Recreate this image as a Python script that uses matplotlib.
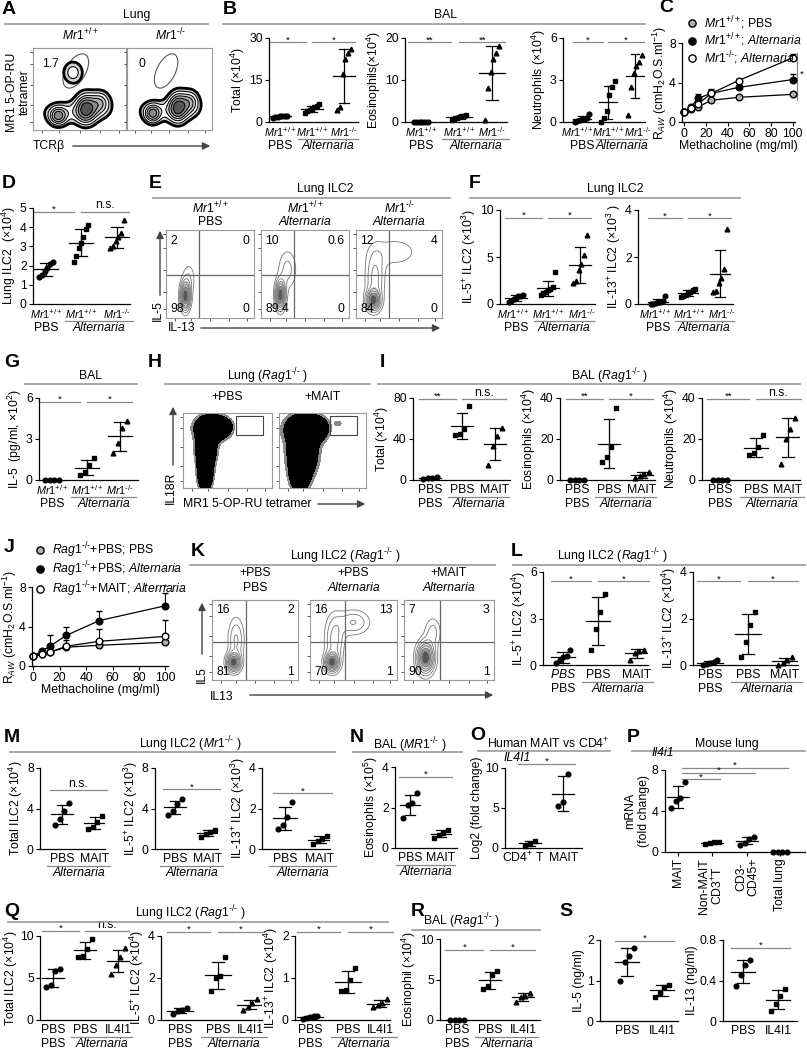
import numpy as np
import matplotlib
matplotlib.use('Agg')
import matplotlib.pyplot as plt
from matplotlib import font_manager
from matplotlib.lines import Line2D
from matplotlib.patches import Ellipse, Rectangle, FancyArrowPatch

# narrow Arial-like face if it is there, plain one otherwise
installed = {f.name for f in font_manager.fontManager.ttflist}
FONT = 'Liberation Sans Narrow' if 'Liberation Sans Narrow' in installed else 'Liberation Sans'
FS = 9.8 if FONT.endswith('Narrow') else 8.8
GS = FS - 1.0      # genotype row labels
STAR = FS - 2

plt.rcParams['font.family'] = [FONT, 'DejaVu Sans']
plt.rcParams['mathtext.fontset'] = 'custom'
plt.rcParams['mathtext.rm'] = FONT
plt.rcParams['mathtext.it'] = FONT + ':italic'
plt.rcParams['mathtext.bf'] = FONT + ':bold'
plt.rcParams['font.size'] = FS
plt.rcParams['axes.linewidth'] = 0.9

# genotype labels
WT = r'$\mathit{Mr1}^{\mathit{+/+}}$'
KO = r'$\mathit{Mr1}^{\text{-/-}}$'
RAG = r'$\mathit{Rag1}^{\text{-/-}}$'
MR1KO = r'$\mathit{MR1}^{\text{-/-}}$'

# ---------------- data ----------------
# B: BAL counts (x10^4)
b_total = [[1.6, 1.8, 1.9, 2.0, 2.1, 2.2, 2.3], [3.2, 3.8, 4.4, 4.8, 5.2, 5.8, 6.3],
           [4.3, 5.2, 17.0, 22.5, 24.5, 26.0]]
b_eos = [[0, 0, 0, 0, 0, 0], [0.5, 0.8, 1.0, 1.2, 1.4, 1.5, 1.6], [0.5, 8.0, 12.0, 15.0, 16.5, 18.0]]
b_neut = [[0.0, 0.1, 0.15, 0.2, 0.25, 0.3, 0.6], [0.0, 0.3, 0.8, 1.9, 2.5, 2.9],
          [0.5, 2.5, 3.5, 4.0, 4.3, 4.8]]

# C: airway resistance
dose = [0, 6.25, 12.5, 25, 50, 100]
c_wt_pbs = [1.0, 1.3, 1.5, 2.2, 2.5, 2.8]
c_wt_pbs_err = [0, 0.05, 0.1, 0.1, 0.1, 0.15]
c_wt_alt = [1.0, 1.5, 2.4, 2.9, 3.5, 4.3]
c_wt_alt_err = [0, 0.2, 0.45, 0.4, 0.25, 0.6]
c_ko_alt = [1.0, 1.4, 1.8, 2.9, 4.2, 6.5]
c_ko_alt_err = [0, 0.1, 0.2, 0.3, 0.15, 0.4]

# D: lung ILC2 (x10^4)
d_ilc2 = [[1.4, 1.5, 1.7, 1.9, 2.1, 2.2], [2.2, 2.5, 2.9, 3.2, 3.5, 3.9, 4.1], [2.9, 3.0, 3.3, 3.5, 3.7, 4.4]]

# E: flow percentages (UL, UR, LL, LR)
e_nums = [['2', '0', '98', '0'], ['10', '0.6', '89.4', '0'], ['12', '4', '84', '0']]

# F: IL-5+ / IL-13+ ILC2 (x10^3)
f_il5 = [[0.2, 0.3, 0.5, 0.6, 0.8, 0.9, 1.0], [1.0, 1.2, 1.3, 1.5, 1.6, 1.8, 3.4],
         [2.2, 2.4, 3.6, 4.3, 5.2, 7.3]]
f_il13 = [[0.0, 0.02, 0.05, 0.08, 0.1, 0.12, 0.35], [0.3, 0.35, 0.4, 0.45, 0.5, 0.6, 0.65],
          [0.5, 0.55, 0.9, 1.1, 1.5, 3.2]]

# G: BAL IL-5
g_il5 = [[0, 0, 0, 0], [0.4, 0.55, 1.1, 1.6], [2.0, 2.7, 3.8, 4.3]]

# I: BAL (Rag1-/-)
i_total = [[1, 2, 2, 3], [44, 45, 50, 72], [15, 33, 43, 51]]
i_eos = [[0, 0, 0, 0], [9, 11, 16, 35], [1, 2, 3, 4]]
i_neut = [[0, 0, 0, 0], [12, 13, 16, 22], [8, 20, 25, 30]]

# J: airway resistance Rag1-/-
j_pbs_pbs = [1.0, 1.2, 1.4, 1.9, 2.1, 2.4]
j_pbs_pbs_err = [0, 0.05, 0.1, 0.2, 0.15, 0.2]
j_pbs_alt = [1.0, 1.5, 2.0, 3.1, 4.6, 6.1]
j_pbs_alt_err = [0, 0.2, 1.1, 0.9, 1.0, 1.3]
j_mait_alt = [1.0, 1.2, 1.4, 2.0, 2.5, 3.0]
j_mait_alt_err = [0, 0.1, 0.3, 0.6, 1.2, 1.7]

# K: flow percentages
k_nums = [['16', '2', '81', '1'], ['16', '13', '70', '1'], ['7', '3', '90', '1']]

# L: lung ILC2 Rag1-/- (x10^4)
l_il5 = [[0.1, 0.3, 0.5, 0.6, 1.0], [1.0, 2.3, 3.4, 4.6], [0.3, 0.8, 0.9, 1.0]]
l_il13 = [[0.0, 0.05, 0.1, 0.15, 0.2], [0.35, 1.0, 1.7, 2.3], [0.0, 0.1, 0.2, 0.35]]

# M: lung ILC2 Mr1-/-
m_total = [[2.4, 3.0, 3.8, 4.5], [2.0, 2.2, 2.7, 3.3]]
m_il5 = [[3.4, 3.8, 4.4, 4.9], [1.2, 1.5, 1.7, 1.9]]
m_il13 = [[1.0, 1.2, 1.6, 2.3], [0.25, 0.4, 0.5, 0.65]]

# N: BAL eosinophils MR1-/- (x10^5)
n_eos = [[1.5, 2.1, 2.2, 2.7], [0.5, 0.65, 0.75, 0.9]]

# O: human IL4I1
o_il4i1 = [[0.3, 0.5, 0.9], [5.3, 5.8, 9.3]]

# P: mouse Il4i1
p_cats = ['MAIT', 'Non-MAIT\nCD3$^{+}$T', 'CD3-\nCD45+', 'Total lung']
p_il4i1 = [[4.3, 5.0, 5.3, 6.8], [0.8, 0.9, 1.0, 1.0], [0.7, 0.9, 1.3, 1.5], [0, 0, 0, 0]]

# Q: lung ILC2 Rag1-/- with IL4I1
q_total = [[3.9, 4.2, 5.8, 6.1], [7.5, 7.6, 8.4, 9.6], [5.5, 6.5, 7.5, 8.6]]
q_il5 = [[0.3, 0.45, 0.5, 0.55], [1.4, 2.0, 2.1, 3.0], [0.5, 0.6, 0.8, 1.0]]
q_il13 = [[0.02, 0.05, 0.07, 0.09, 0.1], [0.7, 0.72, 0.95, 1.25], [0.3, 0.35, 0.4, 0.5]]

# R: BAL eosinophils
r_eos = [[0, 0, 0, 0], [3.8, 4.2, 5.5, 6.1], [2.2, 2.8, 3.0, 3.3]]

# S: cytokines ng/ml
s_il5 = [[1.0, 1.45, 1.6, 1.8], [0.6, 0.7, 0.85, 0.9]]
s_il13 = [[0.35, 0.45, 0.55, 0.6], [0.1, 0.17, 0.25, 0.32]]

# flow plot populations (centre x, centre y, spread x, spread y, weight)
a_wt_blobs = [(0.27, 0.17, 0.06, 0.07, 1.0), (0.57, 0.26, 0.07, 0.11, 1.3), (0.72, 0.33, 0.07, 0.09, 0.7),
              (0.45, 0.22, 0.22, 0.09, 0.35), (0.43, 0.70, 0.07, 0.09, 0.45)]
a_ko_blobs = [(0.30, 0.20, 0.06, 0.07, 1.0), (0.60, 0.28, 0.07, 0.11, 1.3), (0.74, 0.34, 0.07, 0.09, 0.7),
              (0.48, 0.24, 0.22, 0.09, 0.35)]
e_blobs = [[(0.22, 0.25, 0.035, 0.1, 1.0), (0.26, 0.45, 0.05, 0.12, 0.15)],
           [(0.22, 0.26, 0.035, 0.1, 1.0), (0.3, 0.55, 0.07, 0.15, 0.2)],
           [(0.2, 0.2, 0.05, 0.07, 1.0), (0.22, 0.45, 0.07, 0.2, 0.35), (0.45, 0.75, 0.2, 0.12, 0.15)]]
h_blobs = [[(0.33, 0.80, 0.10, 0.09, 1.0), (0.26, 0.55, 0.06, 0.15, 0.9), (0.25, 0.22, 0.045, 0.14, 0.8),
            (0.45, 0.82, 0.05, 0.05, 0.5)],
           [(0.30, 0.78, 0.12, 0.11, 1.0), (0.27, 0.48, 0.09, 0.18, 1.0), (0.24, 0.18, 0.06, 0.12, 0.8),
            (0.45, 0.8, 0.06, 0.07, 0.5), (0.68, 0.86, 0.035, 0.03, 0.1)]]
k_blobs = [[(0.25, 0.22, 0.05, 0.07, 1.0), (0.28, 0.5, 0.06, 0.18, 0.3)],
           [(0.25, 0.22, 0.05, 0.07, 1.0), (0.28, 0.5, 0.07, 0.2, 0.35), (0.5, 0.72, 0.12, 0.1, 0.3)],
           [(0.24, 0.28, 0.06, 0.12, 1.0), (0.32, 0.6, 0.06, 0.12, 0.2)]]

# ---------------- layout helpers (pixel coords, origin top-left) ----------------
W, H = 807, 1050
fig = plt.figure(figsize=(W / 100, H / 100), dpi=100)


def fx(x):
    return x / W


def fy(y):
    return 1 - y / H


def add_ax(x0, y0, x1, y1):
    return fig.add_axes([fx(x0), fy(y1), (x1 - x0) / W, (y1 - y0) / H])


def txt(x, y, s, **kw):
    kw.setdefault('ha', 'center')
    kw.setdefault('va', 'center')
    fig.text(fx(x), fy(y), s, **kw)


def hline(x0, x1, y, color='#999999', lw=1.2):
    fig.add_artist(Line2D([fx(x0), fx(x1)], [fy(y), fy(y)], color=color, lw=lw))


def header(s, xc, yt, x0, x1, yl):
    txt(xc, yt, s)
    hline(x0, x1, yl)


def letter(x, y, s):
    txt(x, y, s, fontsize=14, fontweight='bold', family='Liberation Sans')


def arrow(xa, ya, xb, yb):
    fig.add_artist(FancyArrowPatch((fx(xa), fy(ya)), (fx(xb), fy(yb)), transform=fig.transFigure,
                                   arrowstyle='-|>', mutation_scale=11, color='#444444', lw=1.0))


def dotplot(box, centers, groups, ylim, yticks, ylabel, markers='os^o', sigs=(),
            row1=None, row2=(), ms=3.4, row1_x=None, lpad=1.5):
    x0, y0, x1, y1 = box
    ax = add_ax(x0, y0, x1, y1)
    ax.set_xlim(x0, x1)
    ax.set_ylim(ylim)
    sp = centers[1] - centers[0]
    for c, vals, m in zip(centers, groups, markers):
        vals = np.asarray(vals, float)
        n = len(vals)
        off = np.linspace(-1, 1, n) * min(7.0, 1.8 * n)
        ax.plot(c + off, vals, m, color='k', ms=ms, clip_on=False, zorder=3)
        mu, sd = vals.mean(), vals.std(ddof=1)
        if sd > 0:
            ax.plot([c - 0.33 * sp, c + 0.33 * sp], [mu, mu], color='k', lw=0.9)
            ax.plot([c, c], [mu - sd, mu + sd], color='k', lw=0.9)
            for v in (mu - sd, mu + sd):
                ax.plot([c - 0.16 * sp, c + 0.16 * sp], [v, v], color='k', lw=0.9)
    ax.spines[['top', 'right']].set_visible(False)
    ax.set_xticks([])
    ax.set_yticks(yticks)
    ax.set_yticklabels(['%g' % t for t in yticks])
    ax.tick_params(axis='y', length=3, width=0.8, pad=1.5, labelsize=FS)
    ax.set_ylabel(ylabel, labelpad=lpad, fontsize=FS)
    last = len(centers) - 1
    for i, j, yv, s in sigs:
        left = centers[i] - 0.35 * sp if i == 0 else centers[i]
        right = centers[j] + 0.35 * sp if j == last else centers[j] - 0.2 * sp
        ax.plot([left, right], [yv, yv], color='#888888', lw=0.9, clip_on=False)
        star = '*' in s
        ax.annotate(s, ((left + right) / 2, yv), xytext=(0, -1.5 if star else 0.3),
                    textcoords='offset points', ha='center', va='bottom',
                    fontsize=STAR if star else FS, annotation_clip=False)
    if row1:
        for c, s in zip(row1_x or centers, row1):
            txt(c, y1 + 10, s, fontsize=GS if 'Mr1' in s else FS)
    for i, j, s, ital in row2:
        txt((centers[i] + centers[j]) / 2, y1 + 24, s, style='italic' if ital else 'normal')
        if i != j:
            hline(centers[i] - 0.45 * sp, centers[j] + 0.45 * sp, y1 + 17, color='#888888', lw=0.9)
    return ax


def flow(box, blobs, kind, nums=None, quad=None):
    x0, y0, x1, y1 = box
    ax = add_ax(x0, y0, x1, y1)
    gx, gy = np.meshgrid(np.linspace(0, 1, 200), np.linspace(0, 1, 200))
    dens = np.zeros_like(gx)
    for cx, cy, sx, sy, w in blobs:
        dens += w * np.exp(-0.5 * (((gx - cx) / sx) ** 2 + ((gy - cy) / sy) ** 2))
    dens /= dens.max()
    if kind == 'zebra':
        lv = [0.1, 0.2, 0.32, 0.45, 0.6, 0.78, 1.01]
        ax.contourf(gx, gy, dens, levels=lv,
                    colors=['#d0d0d0', 'white', '#cccccc', '#b0b0b0', '#888888', '#555555'])
        ax.contour(gx, gy, dens, levels=lv[:-1], colors='k', linewidths=[2.0, 0.8, 0.7, 0.7, 0.7, 0.7])
    elif kind == 'cloud':
        ax.contourf(gx, gy, dens, levels=[0.05, 0.11, 1.01], colors=['#8a8a8a', 'black'])
    else:
        ax.contourf(gx, gy, dens, levels=[0.35, 0.65, 0.88, 1.01], colors=['#d8d8d8', '#9a9a9a', '#555555'])
        ax.contour(gx, gy, dens, levels=[0.08, 0.16, 0.26, 0.38, 0.5, 0.65, 0.8], colors='#777777',
                   linewidths=0.6)
    ax.set_xlim(0, 1)
    ax.set_ylim(0, 1)
    ax.set_xticks([0.1, 0.28, 0.5, 0.72, 0.92])
    ax.set_yticks([0.1, 0.3, 0.55, 0.8, 0.95])
    ax.set_xticklabels([])
    ax.set_yticklabels([])
    ax.tick_params(length=2, width=0.7, color='#555555')
    for sp_ in ax.spines.values():
        sp_.set_color('#999999')
        sp_.set_linewidth(0.8)
    if quad:
        ax.axvline(quad[0], color='#666666', lw=0.9)
        ax.axhline(quad[1], color='#666666', lw=0.9)
    if nums:
        ax.text(0.05, 0.88, nums[0], transform=ax.transAxes, ha='left', va='center')
        ax.text(0.95, 0.88, nums[1], transform=ax.transAxes, ha='right', va='center')
        ax.text(0.05, 0.1, nums[2], transform=ax.transAxes, ha='left', va='center')
        ax.text(0.95, 0.1, nums[3], transform=ax.transAxes, ha='right', va='center')
    return ax


def resistance(box, xlim, series, legend_xy):
    x0, y0, x1, y1 = box
    ax = add_ax(x0, y0, x1, y1)
    handles = []
    for vals, err, mfc, lab in series:
        ax.errorbar(dose, vals, yerr=[np.zeros(len(err)), err], fmt='-o', color='k', lw=0.9,
                    mfc=mfc, mec='k', ms=4.8, capsize=2, elinewidth=0.8, clip_on=False)
        handles.append((Line2D([], [], ls='none', marker='o', mfc=mfc, mec='k', ms=5.2), lab))
    ax.set_xlim(xlim)
    ax.set_ylim(0, 8)
    ax.set_xticks([0, 20, 40, 60, 80, 100])
    ax.set_yticks([0, 4, 8])
    ax.spines[['top', 'right']].set_visible(False)
    ax.tick_params(length=3, width=0.8, pad=1.5, labelsize=FS)
    ax.set_xlabel('Methacholine (mg/ml)', labelpad=0, fontsize=FS)
    ax.set_ylabel(r'R$_{AW}$ (cmH$_2$O.S.ml$^{-1}$)', labelpad=0, fontsize=FS)
    ax.legend([h for h, _ in handles], [l for _, l in handles], loc='upper left',
              bbox_to_anchor=(fx(legend_xy[0]), fy(legend_xy[1])), bbox_transform=fig.transFigure,
              frameon=False, handlelength=0.6, handletextpad=0.7, labelspacing=0.0,
              borderpad=0, borderaxespad=0, fontsize=FS)
    return ax


# ---------------- A ----------------
letter(9, 10, 'A')
header('Lung', 137, 15, 5, 208, 24)
txt(80, 35, WT)
txt(170, 35, KO)
axa = flow((33, 48, 126, 130), a_wt_blobs, 'zebra')
axa.add_patch(Ellipse((0.46, 0.72), 0.22, 0.45, angle=-25, fill=False, ec='#555555', lw=0.8))
axa.text(0.1, 0.8, '1.7', transform=axa.transAxes, ha='left', va='center')
axa2 = flow((127, 48, 212, 130), a_ko_blobs, 'zebra')
axa2.add_patch(Ellipse((0.46, 0.72), 0.22, 0.45, angle=-25, fill=False, ec='#555555', lw=0.8))
axa2.text(0.14, 0.8, '0', transform=axa2.transAxes, ha='left', va='center')
txt(18, 92, 'MR1 5-OP-RU\ntetramer', rotation=90, linespacing=1.1)
txt(33, 146, 'TCRβ', ha='left')
arrow(70, 146, 213, 146)

# ---------------- B ----------------
letter(230, 10, 'B')
header('BAL', 445, 15, 223, 645, 24)
row2_3 = [(0, 0, 'PBS', False), (1, 2, 'Alternaria', True)]
dotplot((269, 38, 358, 122), [280, 312, 344], b_total, (0, 30), [0, 15, 30], 'Total (×10$^4$)',
        sigs=[(0, 1, 28.5, '*'), (1, 2, 28.5, '*')], row1=[WT, WT, KO], row2=row2_3)
dotplot((405, 38, 507, 122), [421, 459, 492], b_eos, (0, 20), [0, 10, 20], 'Eosinophils(×10$^4$)',
        sigs=[(0, 1, 19, '**'), (1, 2, 19, '**')], row1=[WT, WT, KO], row2=row2_3)
dotplot((563, 38, 645, 122), [582, 608, 635], b_neut, (0, 6), [0, 3, 6], 'Neutrophils (×10$^4$)',
        sigs=[(0, 1, 5.7, '*'), (1, 2, 5.7, '*')], row1=[WT, WT, KO], row2=row2_3,
        row1_x=[577, 608, 638])

# ---------------- C ----------------
letter(666, 8, 'C')
axc = resistance((682, 43, 795, 122), (-2, 102),
                 [(c_wt_pbs, c_wt_pbs_err, '#b0b0b0', WT + '; PBS'),
                  (c_wt_alt, c_wt_alt_err, 'black', WT + '; $\\mathit{Alternaria}$'),
                  (c_ko_alt, c_ko_alt_err, 'white', KO + '; $\\mathit{Alternaria}$')], (688, 14))
axc.plot([104, 104], [2.2, 7.0], color='#888888', lw=0.9, clip_on=False)
axc.text(108, 4.8, '*', fontsize=STAR, ha='center', va='center')

# ---------------- D ----------------
letter(9, 183, 'D')
dotplot((33, 208, 130, 304), [46, 81, 117], d_ilc2, (0, 5), [0, 1, 2, 3, 4, 5], 'Lung ILC2  (×10$^4$)',
        sigs=[(0, 1, 4.8, '*'), (1, 2, 4.8, 'n.s.')], row1=[WT, WT, KO], row2=row2_3)

# ---------------- E ----------------
letter(155, 183, 'E')
header('Lung ILC2', 325, 189, 153, 450, 198)
e_boxes = [(166, 230, 254, 318), (261, 230, 349, 318), (356, 230, 442, 318)]
e_titles = [(WT, 'PBS', False), (WT, 'Alternaria', True), (KO, 'Alternaria', True)]
for bx, bl, nm, (t1, t2, it) in zip(e_boxes, e_blobs, e_nums, e_titles):
    flow(bx, bl, 'contour', nums=nm, quad=(0.38, 0.49))
    cx = (bx[0] + bx[2]) / 2
    txt(cx, 208, t1)
    txt(cx, 222, t2, style='italic' if it else 'normal')
txt(158, 311, 'IL-5', rotation=90)
arrow(160, 298, 160, 228)
txt(168, 328, 'IL-13', ha='left')
arrow(198, 328, 443, 328)

# ---------------- F ----------------
letter(475, 183, 'F')
header('Lung ILC2', 615, 189, 470, 740, 198)
dotplot((500, 210, 595, 304), [516, 548, 580], f_il5, (0, 10), [0, 5, 10], 'IL-5$^{+}$ ILC2 (×10$^3$)',
        sigs=[(0, 1, 9.2, '*'), (1, 2, 9.2, '*')], row1=[WT, WT, KO], row2=row2_3,
        row1_x=[513, 548, 582])
dotplot((638, 210, 733, 304), [658, 688, 720], f_il13, (0, 4), [0, 2, 4], 'IL-13$^{+}$ ILC2 (×10$^3$ )',
        sigs=[(0, 1, 3.65, '*'), (1, 2, 3.65, '*')], row1=[WT, WT, KO], row2=row2_3,
        row1_x=[655, 689, 722])

# ---------------- G ----------------
letter(12, 363, 'G')
header('BAL', 90, 376, 25, 137, 384)
dotplot((39, 398, 138, 480), [52, 87, 120], g_il5, (0, 6), [0, 3, 6], 'IL-5  (pg/ml, ×10$^2$)',
        sigs=[(0, 1, 5.7, '*'), (1, 2, 5.7, '*')], row1=[WT, WT, KO], row2=row2_3)

# ---------------- H ----------------
letter(155, 363, 'H')
header('Lung (' + RAG + ' )', 268, 376, 165, 370, 384)
h_boxes = [(183, 413, 272, 488), (279, 413, 366, 488)]
for bx, bl, t in zip(h_boxes, h_blobs, ['+PBS', '+MAIT']):
    axh = flow(bx, bl, 'cloud')
    axh.add_patch(Rectangle((0.59, 0.71), 0.31, 0.25, fill=False, ec='#444444', lw=0.8))
    txt((bx[0] + bx[2]) / 2, 397, t)
txt(171, 488, 'IL18R', rotation=90)
arrow(173, 468, 173, 404)
txt(183, 504, 'MR1 5-OP-RU tetramer', ha='left')
arrow(315, 504, 368, 504)

# ---------------- I ----------------
letter(382, 363, 'I')
header('BAL (' + RAG + ' )', 610, 376, 378, 800, 384)
row2_pa = [(0, 0, 'PBS', False), (1, 2, 'Alternaria', True)]
dotplot((413, 398, 510, 480), [430, 462, 495], i_total, (0, 80), [0, 40, 80], 'Total (×10$^4$)',
        sigs=[(0, 1, 79, '**'), (1, 2, 79, 'n.s.')], row1=['PBS', 'PBS', 'MAIT'], row2=row2_pa)
dotplot((560, 398, 655, 480), [577, 609, 642], i_eos, (0, 40), [0, 20, 40], 'Eosinophils (×10$^4$)',
        sigs=[(0, 1, 39.5, '**'), (1, 2, 39.5, '*')], row1=['PBS', 'PBS', 'MAIT'], row2=row2_pa)
dotplot((702, 398, 800, 480), [720, 756, 788], i_neut, (0, 40), [0, 20, 40], 'Neutrophils (×10$^4$)',
        sigs=[(0, 1, 39.5, '**'), (1, 2, 39.5, 'n.s.')], row1=['PBS', 'PBS', 'MAIT'], row2=row2_pa)

# ---------------- J ----------------
letter(9, 548, 'J')
axj = resistance((32, 587, 168, 666), (-1, 102),
                 [(j_pbs_pbs, j_pbs_pbs_err, '#b0b0b0', RAG + '+PBS; PBS'),
                  (j_pbs_alt, j_pbs_alt_err, 'black', RAG + '+PBS; $\\mathit{Alternaria}$'),
                  (j_mait_alt, j_mait_alt_err, 'white', RAG + '+MAIT; $\\mathit{Alternaria}$')], (36, 540))
# significance star just above the top error cap at 100 mg/ml
axj.annotate('*', (dose[-1], j_pbs_alt[-1] + j_pbs_alt_err[-1]), xytext=(0, 0.5),
             textcoords='offset points', ha='center', va='bottom', fontsize=STAR - 0.5,
             annotation_clip=False)

# ---------------- K ----------------
letter(198, 552, 'K')
header('Lung ILC2 (' + RAG + ' )', 345, 556, 190, 495, 565)
k_boxes = [(212, 600, 298, 680), (310, 600, 397, 680), (404, 600, 494, 680)]
k_titles = [('+PBS', 'PBS', False), ('+PBS', 'Alternaria', True), ('+MAIT', 'Alternaria', True)]
for bx, bl, nm, (t1, t2, it) in zip(k_boxes, k_blobs, k_nums, k_titles):
    flow(bx, bl, 'contour', nums=nm, quad=(0.4, 0.47))
    cx = (bx[0] + bx[2]) / 2
    txt(cx, 573, t1)
    txt(cx, 588, t2, style='italic' if it else 'normal')
txt(202, 675, 'IL5', rotation=90)
arrow(202, 657, 202, 600)
txt(210, 697, 'IL13', ha='left')
arrow(247, 695, 496, 695)

# ---------------- L ----------------
letter(517, 552, 'L')
header('Lung ILC2 (' + RAG + ' )', 612, 556, 513, 805, 565)
dotplot((543, 572, 648, 665), [563, 598, 637], l_il5, (0, 6), [0, 3, 6], 'IL-5$^{+}$ ILC2 (×10$^4$)',
        sigs=[(0, 1, 5.4, '*'), (1, 2, 5.4, '*')], row1=[r'$\mathit{PBS}$', 'PBS', 'MAIT'], row2=row2_pa)
dotplot((693, 572, 798, 665), [710, 748, 785], l_il13, (0, 4), [0, 2, 4], 'IL-13$^{+}$ ILC2 (×10$^4$)',
        sigs=[(0, 1, 3.6, '*'), (1, 2, 3.6, '*')], row1=['PBS', 'PBS', 'MAIT'], row2=row2_pa)

# ---------------- M ----------------
letter(12, 737, 'M')
header('Lung ILC2 (' + KO + ' )', 190, 744, 10, 335, 752)
row2_alt = [(0, 1, 'Alternaria', True)]
dotplot((40, 768, 105, 849), [62, 95], m_total, (0, 8), [0, 4, 8], 'Total ILC2 (×10$^4$)',
        sigs=[(0, 1, 5.8, 'n.s.')], row1=['PBS', 'MAIT'], row2=row2_alt)
dotplot((155, 768, 218, 849), [175, 208], m_il5, (0, 8), [0, 4, 8], 'IL-5$^{+}$ ILC2 (×10$^3$)',
        sigs=[(0, 1, 5.9, '*')], row1=['PBS', 'MAIT'], row2=row2_alt)
dotplot((262, 768, 330, 849), [285, 320], m_il13, (0, 4), [0, 2, 4], 'IL-13$^{+}$ ILC2 (×10$^3$)',
        sigs=[(0, 1, 2.75, '*')], row1=['PBS', 'MAIT'], row2=row2_alt)

# ---------------- N ----------------
letter(357, 737, 'N')
header('BAL (' + MR1KO + ' )', 410, 745, 353, 462, 752)
dotplot((395, 767, 457, 848), [410, 441], n_eos, (0, 4), [0, 2, 4], 'Eosinophils (×10$^5$)',
        sigs=[(0, 1, 3.5, '*')], row1=['PBS', 'MAIT'], row2=row2_alt)

# ---------------- O ----------------
letter(478, 735, 'O')
header('Human MAIT vs CD4$^{+}$', 548, 744, 478, 610, 751)
dotplot((505, 768, 582, 848), [530, 563], o_il4i1, (0, 10), [0, 5, 10], 'Log2 (fold change)',
        markers='so', sigs=[(0, 1, 10.5, '*')], row1=['CD4$^{+}$ T', 'MAIT'], row1_x=[523, 564])
txt(504, 758, 'IL4I1', style='italic', ha='left')

# ---------------- P ----------------
letter(633, 737, 'P')
header('Mouse lung', 727, 744, 632, 805, 751)
p_c = [678, 712, 747, 780]
axp = dotplot((665, 770, 805, 852), p_c, p_il4i1, (0, 8), [0, 4, 8], 'mRNA\n(fold change)',
              markers='osoo')
for cj, yv in zip(p_c[1:], [7.1, 7.7, 8.2]):
    axp.plot([682, cj + 8], [yv, yv], color='#888888', lw=0.9, clip_on=False)
    axp.annotate('*', ((682 + cj + 8) / 2, yv), xytext=(0, -1.5), textcoords='offset points',
                 ha='center', va='bottom', fontsize=STAR, annotation_clip=False)
axp.set_xticks(p_c)
axp.set_xticklabels([])
axp.tick_params(axis='x', length=3, width=0.8)
for c, s in zip(p_c, p_cats):
    txt(c, 858, s, rotation=90, va='top', linespacing=1.0)
txt(652, 753, 'Il4i1', style='italic', ha='left')

# ---------------- Q ----------------
letter(12, 911, 'Q')
header('Lung ILC2 (' + RAG + ' )', 190, 913, 8, 388, 922)
row2_q = [(0, 0, 'PBS', False), (1, 2, 'Alternaria', True)]
dotplot((40, 936, 130, 1020), [53, 85, 118], q_total, (0, 10), [0, 5, 10], 'Total ILC2 (×10$^4$)',
        sigs=[(0, 1, 10.6, '*'), (1, 2, 10.6, 'n.s.')], row1=['PBS', 'PBS', 'IL4I1'], row2=row2_q,
        lpad=0.3)
dotplot((161, 936, 262, 1020), [180, 218, 250], q_il5, (0, 4), [0, 2, 4], 'IL-5$^{+}$ ILC2 (×10$^4$)',
        sigs=[(0, 1, 4.2, '*'), (1, 2, 4.2, '*')], row1=['PBS', 'PBS', 'IL4I1'], row2=row2_q)
dotplot((295, 936, 390, 1020), [310, 348, 380], q_il13, (0, 2), [0, 1, 2], 'IL-13$^{+}$ ILC2 (×10$^4$)',
        sigs=[(0, 1, 2.1, '*'), (1, 2, 2.1, '*')], row1=['PBS', 'PBS', 'IL4I1'], row2=row2_q)

# ---------------- R ----------------
letter(418, 911, 'R')
header('BAL (' + RAG + ' )', 462, 921, 412, 540, 930)
dotplot((440, 939, 540, 1020), [457, 490, 523], r_eos, (0, 10), [0, 5, 10], 'Eosinophil (×10$^4$)',
        sigs=[(0, 1, 8.7, '*'), (1, 2, 8.7, '*')], row1=['PBS', 'PBS', 'IL4I1'], row2=row2_q)

# ---------------- S ----------------
letter(566, 912, 'S')
dotplot((600, 940, 678, 1021), [627, 662], s_il5, (0, 2), [0, 1, 2], 'IL-5 (ng/ml)',
        sigs=[(0, 1, 1.98, '*')], row1=['PBS', 'IL4I1'])
dotplot((723, 940, 797, 1021), [743, 778], s_il13, (0, 0.8), [0, 0.4, 0.8], 'IL-13 (ng/ml)',
        sigs=[(0, 1, 0.72, '*')], row1=['PBS', 'IL4I1'])

fig.savefig('out.png', dpi=100)
